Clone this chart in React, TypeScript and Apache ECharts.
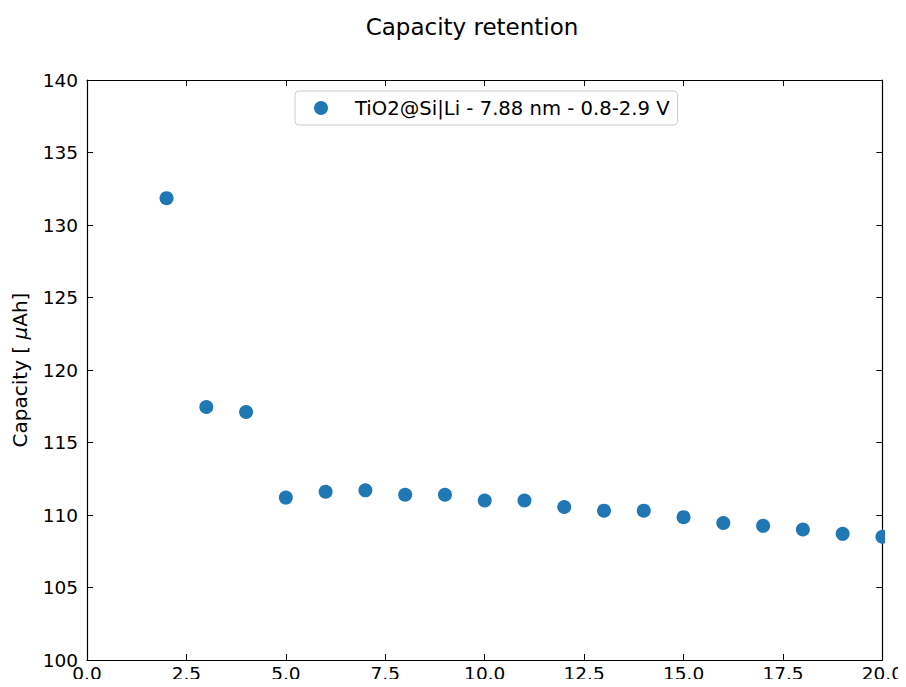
import React, { useEffect, useRef } from "react";
import * as echarts from "echarts";

const cycles = [2, 3, 4, 5, 6, 7, 8, 9, 10, 11, 12, 13, 14, 15, 16, 17, 18, 19, 20];
const capacity = [131.85, 117.45, 117.1, 111.2, 111.6, 111.7, 111.4, 111.4, 111.0, 111.0, 110.55, 110.3, 110.3, 109.85, 109.45, 109.25, 109.0, 108.7, 108.5];
const seriesName = "TiO2@Si|Li - 7.88 nm - 0.8-2.9 V";
const titleText = "Capacity retention";
const yAxisName = "Capacity [ {i|\u03bc}Ah]";

const FONT = "DejaVu Sans";

export default function App() {
  const ref = useRef<HTMLDivElement>(null);
  useEffect(() => {
    if (!ref.current) return;
    const chart = echarts.init(ref.current, undefined, { renderer: "svg" });
    const tickCommon = { show: true, inside: true, length: 6, lineStyle: { color: "#000", width: 1 } };
    const lineCommon = { show: true, onZero: false, lineStyle: { color: "#000", width: 1.2 } };
    chart.setOption({
      animation: false,
      backgroundColor: "#fff",
      title: {
        text: titleText,
        left: 467,
        top: 10,
        textAlign: "center",
        textStyle: { fontFamily: FONT, fontSize: 23, fontWeight: "normal", color: "#000" },
      },
      legend: {
        data: [{ name: seriesName, icon: "circle" }],
        left: 295,
        top: 91,
        orient: "horizontal",
        itemWidth: 28,
        itemHeight: 14,
        padding: [7, 8, 7, 19],
        borderColor: "#cccccc",
        borderWidth: 1,
        borderRadius: 4,
        backgroundColor: "rgba(255,255,255,0.8)",
        textStyle: { fontFamily: FONT, fontSize: 19.6, color: "#000", padding: [0, 0, 0, 15] },
      },
      grid: { left: 87, right: 22, top: 80, bottom: 27, containLabel: false },
      xAxis: [
        {
          type: "value",
          min: 0,
          max: 20,
          interval: 2.5,
          position: "bottom",
          axisLine: lineCommon,
          axisTick: tickCommon,
          splitLine: { show: false },
          axisLabel: {
            margin: 4,
            fontFamily: FONT,
            fontSize: 18.5,
            color: "#000",
            formatter: (v: number) => v.toFixed(1),
          },
        },
        {
          type: "value",
          min: 0,
          max: 20,
          interval: 2.5,
          position: "top",
          axisLine: lineCommon,
          axisTick: tickCommon,
          splitLine: { show: false },
          axisLabel: { show: false },
        },
      ],
      yAxis: [
        {
          type: "value",
          min: 100,
          max: 140,
          interval: 5,
          position: "left",
          name: yAxisName,
          nameLocation: "middle",
          nameGap: 57,
          nameRotate: 90,
          nameTextStyle: {
            fontFamily: FONT,
            fontSize: 20,
            color: "#000",
            rich: { i: { fontFamily: FONT, fontSize: 20, fontStyle: "italic", color: "#000" } },
          },
          axisLine: lineCommon,
          axisTick: tickCommon,
          splitLine: { show: false },
          axisLabel: { margin: 9, fontFamily: FONT, fontSize: 18.5, color: "#000" },
        },
        {
          type: "value",
          min: 100,
          max: 140,
          interval: 5,
          position: "right",
          axisLine: lineCommon,
          axisTick: tickCommon,
          splitLine: { show: false },
          axisLabel: { show: false },
        },
      ],
      series: [
        {
          name: seriesName,
          type: "scatter",
          xAxisIndex: 0,
          yAxisIndex: 0,
          symbol: "circle",
          symbolSize: 14,
          clip: false,
          itemStyle: { color: "#1f77b4", opacity: 1 },
          data: cycles.map((c, i) => [c, capacity[i]]),
        },
      ],
      graphic: [
        {
          type: "rect",
          left: 885,
          top: 60,
          shape: { width: 30, height: 600 },
          style: { fill: "#fff" },
          z: 100,
        },
      ],
    });
    return () => chart.dispose();
  }, []);
  return <div ref={ref} style={{ width: 906, height: 687, margin: -8 }} />;
}
